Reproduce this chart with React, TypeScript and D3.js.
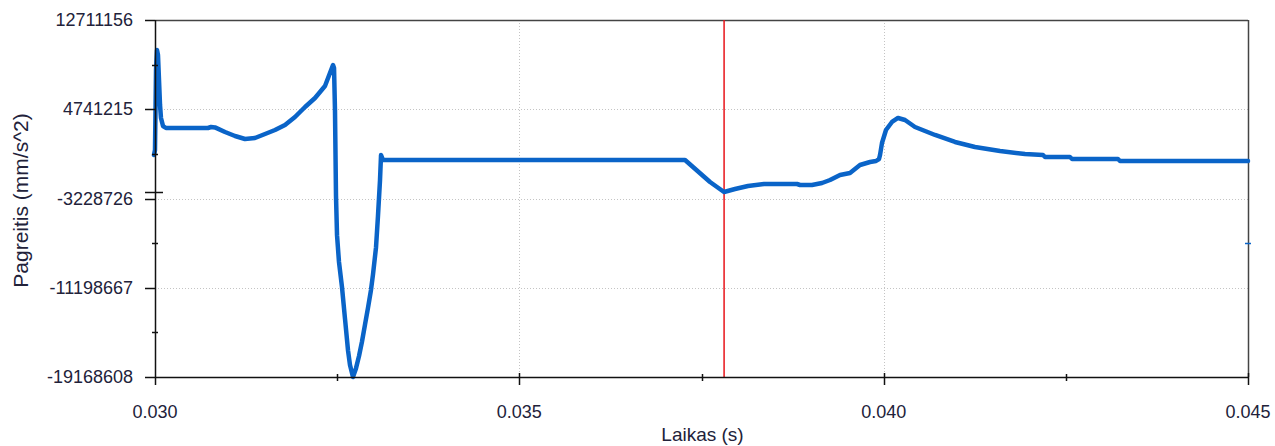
import React from "react";
import * as d3 from "d3";

// Time (s)
const times: number[] = [
  0.029986, 0.030000, 0.030014, 0.030027, 0.030041, 0.030055, 0.030069, 0.030082, 0.030110, 0.030151,
  0.030727, 0.030769, 0.030823, 0.030961, 0.031098, 0.031235, 0.031372, 0.031510, 0.031647, 0.031784,
  0.031921, 0.032059, 0.032196, 0.032333, 0.032443, 0.032457, 0.032470, 0.032484, 0.032498, 0.032525,
  0.032566, 0.032608, 0.032649, 0.032676, 0.032717, 0.032758, 0.032800, 0.032841, 0.032882,
  0.032923, 0.032964, 0.032992, 0.033033, 0.033060, 0.033088, 0.033102, 0.033129, 0.037274, 0.037383,
  0.037617, 0.037809, 0.037960, 0.038138, 0.038358, 0.038811, 0.038852, 0.039016, 0.039154, 0.039264,
  0.039401, 0.039538, 0.039675, 0.039813, 0.039895, 0.039936, 0.039950, 0.039977, 0.040032, 0.040114,
  0.040197, 0.040293, 0.040430, 0.040705, 0.040979, 0.041253, 0.041597, 0.041940, 0.042187, 0.042214,
  0.042557, 0.042585, 0.043216, 0.043243, 0.045000,
];

// Acceleration (mm/s^2)
const accel: number[] = [
  656000, 1102000, 8246000, 10032000, 9586000, 7353000, 5121000, 3960000, 3245000, 3067000,
  3067000, 3156000, 3120000, 2710000, 2352000, 2084000, 2174000, 2531000, 2888000, 3335000,
  4049000, 4942000, 5746000, 6817000, 8693000, 8425000, 4674000, -3000000, -6500000, -8900000,
  -11132000, -14000000, -16800000, -18100000, -19168608, -18400000, -17300000, -16000000, -14500000,
  -13000000, -11400000, -10000000, -7600000, -4800000, -1577000, 656000, 209000, 209000, -416000,
  -1755000, -2648000, -2381000, -2113000, -1934000, -1934000, -2023000, -2023000, -1845000, -1577000,
  -1130000, -952000, -237000, 31000, 120000, 298000, 656000, 1727000, 2888000, 3603000,
  3960000, 3781000, 3156000, 2442000, 1817000, 1370000, 1013000, 745000, 656000, 477000,
  477000, 298000, 298000, 120000, 120000,
];

const yTickValues: number[] = [12711156, 4741215, -3228726, -11198667, -19168608];
const xTickValues: number[] = [0.03, 0.035, 0.04, 0.045];
const xDomain: [number, number] = [0.03, 0.045];
const cursorTime = 0.03781;
const cursorValue = -2648000;
const xTitle = "Laikas (s)";
const yTitle = "Pagreitis (mm/s^2)";

const W = 1275;
const H = 446;
const L = 155;
const R = 1248;
const T = 20;
const B = 377;

export default function App() {
  const x = d3.scaleLinear().domain(xDomain).range([L, R]);
  const y = d3
    .scaleLinear()
    .domain([yTickValues[yTickValues.length - 1], yTickValues[0]])
    .range([B, T]);

  const pts: [number, number][] = times.map((t, i) => [t, accel[i]]);
  const line = d3
    .line<[number, number]>()
    .x((d) => x(d[0]))
    .y((d) => y(d[1]));

  const yMinor = yTickValues.slice(1).map((v, i) => (v + yTickValues[i]) / 2);
  const xMinor = xTickValues.slice(1).map((v, i) => (v + xTickValues[i]) / 2);
  const fmt = d3.format(".3f");
  const tickFont = "'Liberation Sans', Arial, sans-serif";
  const textColor = "#22223a";

  return (
    <svg
      width={W}
      height={H}
      style={{ position: "absolute", left: 0, top: 0, background: "#fff" }}
    >
      <rect x={0} y={0} width={W} height={H} fill="#fff" />
      {/* grid */}
      {yTickValues.slice(1, -1).map((v) => (
        <line
          key={"gy" + v}
          x1={L}
          x2={R}
          y1={Math.round(y(v)) + 0.5}
          y2={Math.round(y(v)) + 0.5}
          stroke="#c4c4c4"
          strokeDasharray="1,2"
        />
      ))}
      {xTickValues.slice(1, -1).map((v) => (
        <line
          key={"gx" + v}
          x1={Math.round(x(v)) + 0.5}
          x2={Math.round(x(v)) + 0.5}
          y1={T}
          y2={B}
          stroke="#c4c4c4"
          strokeDasharray="1,2"
        />
      ))}
      {/* frame top/right */}
      <line x1={L} x2={R} y1={T + 0.5} y2={T + 0.5} stroke="#444" strokeWidth={1.5} />
      <line x1={R + 0.5} x2={R + 0.5} y1={T} y2={B} stroke="#444" strokeWidth={1.5} />
      {/* cursor */}
      <line
        x1={x(cursorTime)}
        x2={x(cursorTime)}
        y1={T}
        y2={B}
        stroke="#e8141a"
        strokeWidth={1.5}
      />
      {/* data */}
      <path
        d={line(pts) || ""}
        fill="none"
        stroke="#0a64c8"
        strokeWidth={4.5}
        strokeLinejoin="round"
        strokeLinecap="round"
      />
      {/* axes */}
      <line x1={L + 0.5} x2={L + 0.5} y1={T} y2={B} stroke="#111" strokeWidth={1.5} />
      <line x1={L} x2={R} y1={B + 0.5} y2={B + 0.5} stroke="#111" strokeWidth={1.5} />
      {yTickValues.map((v) => (
        <g key={"yt" + v}>
          <line
            x1={L - 10}
            x2={L}
            y1={Math.round(y(v)) + 0.5}
            y2={Math.round(y(v)) + 0.5}
            stroke="#111"
            strokeWidth={1.5}
          />
          <text
            x={133}
            y={y(v)}
            textAnchor="end"
            dominantBaseline="central"
            fontFamily={tickFont}
            fontSize={18}
            fill={textColor}
          >
            {String(v)}
          </text>
        </g>
      ))}
      {yMinor.map((v) => (
        <line
          key={"ym" + v}
          x1={L - 3}
          x2={L + 3}
          y1={Math.round(y(v)) + 0.5}
          y2={Math.round(y(v)) + 0.5}
          stroke="#111"
          strokeWidth={1.5}
        />
      ))}
      <line
        x1={L - 10}
        x2={L + 8}
        y1={Math.round(y(cursorValue)) + 0.5}
        y2={Math.round(y(cursorValue)) + 0.5}
        stroke="#111"
        strokeWidth={1.5}
      />
      <line
        x1={R - 3}
        x2={R + 3}
        y1={Math.round(y(yMinor[2])) + 0.5}
        y2={Math.round(y(yMinor[2])) + 0.5}
        stroke="#0a64c8"
        strokeWidth={1.5}
      />
      {xTickValues.map((v) => (
        <g key={"xt" + v}>
          <line
            x1={Math.round(x(v)) + 0.5}
            x2={Math.round(x(v)) + 0.5}
            y1={v === xTickValues[0] ? B : B - 4}
            y2={B + 8}
            stroke="#111"
            strokeWidth={1.5}
          />
          <text
            x={x(v)}
            y={418}
            textAnchor="middle"
            fontFamily={tickFont}
            fontSize={18}
            fill={textColor}
          >
            {fmt(v)}
          </text>
        </g>
      ))}
      {xMinor.map((v) => (
        <line
          key={"xm" + v}
          x1={Math.round(x(v)) + 0.5}
          x2={Math.round(x(v)) + 0.5}
          y1={B - 3}
          y2={B + 4}
          stroke="#111"
          strokeWidth={1.5}
        />
      ))}
      {/* titles */}
      <text
        x={(L + R) / 2 + 1}
        y={441}
        textAnchor="middle"
        fontFamily={tickFont}
        fontSize={19}
        fill={textColor}
      >
        {xTitle}
      </text>
      <text
        transform={`translate(28, ${(T + B) / 2 + 2}) rotate(-90)`}
        textAnchor="middle"
        fontFamily={tickFont}
        fontSize={21}
        fill={textColor}
      >
        {yTitle}
      </text>
    </svg>
  );
}
